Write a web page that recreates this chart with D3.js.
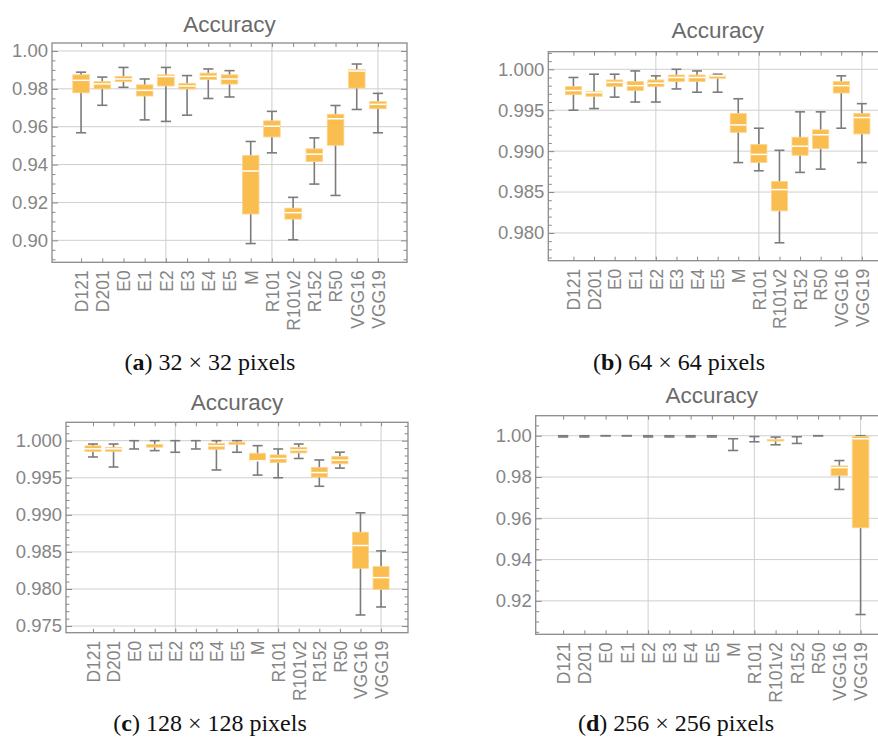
<!DOCTYPE html>
<html>
<head>
<meta charset="utf-8">
<script src="https://cdn.jsdelivr.net/npm/d3@7"></script>
<style>
  html, body { margin: 0; padding: 0; background: #fff; }
  svg { display: block; }
</style>
</head>
<body>
<svg id="chart" width="878" height="746"></svg>
<script>
// ---------- DATA ----------
const categories = ["D121","D201","E0","E1","E2","E3","E4","E5","M","R101","R101v2","R152","R50","VGG16","VGG19"];

// (a) 32 x 32 pixels
const a_high   = [0.9888,0.9862,0.9913,0.9852,0.9913,0.9870,0.9905,0.9896,0.9522,0.9681,0.9227,0.9541,0.9712,0.9931,0.9776];
const a_q3     = [0.9874,0.9838,0.9866,0.9821,0.9874,0.9829,0.9883,0.9874,0.9448,0.9631,0.9170,0.9483,0.9666,0.9901,0.9733];
const a_median = [0.9845,0.9826,0.9852,0.9792,0.9865,0.9815,0.9866,0.9852,0.9366,0.9603,0.9146,0.9455,0.9642,0.9894,0.9718];
const a_q1     = [0.9779,0.9800,0.9838,0.9762,0.9815,0.9799,0.9849,0.9825,0.9139,0.9546,0.9112,0.9416,0.9502,0.9804,0.9695];
const a_low    = [0.9568,0.9713,0.9808,0.9636,0.9628,0.9661,0.9749,0.9757,0.8983,0.9462,0.9003,0.9297,0.9237,0.9691,0.9568];
const a_ticks  = [0.90,0.92,0.94,0.96,0.98,1.00];

// (b) 64 x 64 pixels
const b_high   = [0.9990,0.9994,0.9994,0.9998,0.9992,1.0000,0.9998,0.9994,0.9964,0.9928,0.9901,0.9948,0.9948,0.9992,0.9958];
const b_q3     = [0.9979,0.9973,0.9987,0.9985,0.9987,0.9993,0.9993,0.9993,0.9946,0.9908,0.9863,0.9917,0.9926,0.9985,0.9946];
const b_median = [0.9974,0.99715,0.9984,0.9980,0.9983,0.9990,0.9990,0.9992,0.9932,0.9896,0.9853,0.9906,0.9920,0.9980,0.9941];
const b_q1     = [0.9969,0.9967,0.9979,0.9974,0.9979,0.9985,0.9985,0.9989,0.9923,0.9886,0.9827,0.9895,0.9903,0.9971,0.9921];
const b_low    = [0.9950,0.9952,0.9966,0.9960,0.9960,0.9976,0.9972,0.9972,0.9886,0.9876,0.9788,0.9874,0.9878,0.9928,0.9886];
const b_ticks  = [0.980,0.985,0.990,0.995,1.000];

// (c) 128 x 128 pixels
const c_high   = [0.99955,0.99955,1.0000,1.0000,1.0000,1.0000,1.0000,1.0000,0.99933,0.99888,0.99955,0.99740,0.99845,0.99027,0.98514];
const c_q3     = [0.99930,0.99910,1.0000,0.99948,1.0000,1.0000,0.99964,0.99980,0.99830,0.99808,0.99910,0.99638,0.99786,0.98766,0.98302];
const c_median = [0.99890,0.99890,1.0000,0.99930,1.0000,1.0000,0.99930,0.99965,0.99730,0.99760,0.99875,0.99570,0.99737,0.98586,0.98153];
const c_q1     = [0.99855,0.99855,1.0000,0.99912,1.0000,1.0000,0.99884,0.99950,0.99728,0.99705,0.99835,0.99509,0.99688,0.98279,0.97995];
const c_low    = [0.99780,0.99645,0.99888,0.99866,0.99844,0.99888,0.99605,0.99844,0.99536,0.99500,0.99760,0.99385,0.99630,0.97649,0.97757];
const c_ticks  = [0.975,0.980,0.985,0.990,0.995,1.000];

// (d) 256 x 256 pixels
const d_high   = [1.0000,1.0000,1.0000,1.0000,1.0000,1.0000,1.0000,1.0000,0.99854,0.99960,0.99935,0.99951,1.0000,0.98797,1.0000];
const d_q3     = [1.0000,1.0000,1.0000,1.0000,1.0000,1.0000,1.0000,1.0000,0.99650,0.99950,0.99820,0.99820,1.0000,0.98537,0.99967];
const d_median = [1.0000,1.0000,1.0000,1.0000,1.0000,1.0000,1.0000,1.0000,0.99650,0.99950,0.99780,0.99820,1.0000,0.98455,0.99854];
const d_q1     = [1.0000,1.0000,1.0000,1.0000,1.0000,1.0000,1.0000,1.0000,0.99650,0.99950,0.99750,0.99820,1.0000,0.98065,0.95540];
const d_low    = [0.99940,0.99940,1.0000,1.0000,0.99940,0.99940,0.99940,0.99940,0.99285,0.99707,0.99561,0.99626,1.0000,0.97398,0.91338];
const d_ticks  = [0.92,0.94,0.96,0.98,1.00];

const gridCategories = ["E2","R101","VGG19"];

// ---------- LAYOUT ----------
const panels = [
  { letter:"a", rest:") 32 \u00d7 32 pixels", high:a_high, q3:a_q3, med:a_median, q1:a_q1, low:a_low,
    ticks:a_ticks, minorStep:0.005, fmt:".2f", domain:[0.8884,1.0042],
    left:52, right:407, top:43, bottom:262.3, pad:1.37, titleY:32, capX:210, capY:370 },
  { letter:"b", rest:") 64 \u00d7 64 pixels", high:b_high, q3:b_q3, med:b_median, q1:b_q1, low:b_low,
    ticks:b_ticks, minorStep:0.001, fmt:".3f", domain:[0.97661,1.00215],
    left:548.3, right:887, top:51.7, bottom:260.7, pad:1.22, titleY:38, capX:679, capY:370 },
  { letter:"c", rest:") 128 \u00d7 128 pixels", high:c_high, q3:c_q3, med:c_median, q1:c_q1, low:c_low,
    ticks:c_ticks, minorStep:0.001, fmt:".3f", domain:[0.9741,1.00248],
    left:66, right:408, top:422.3, bottom:632.7, pad:1.31, titleY:410, capX:210, capY:731 },
  { letter:"d", rest:") 256 \u00d7 256 pixels", high:d_high, q3:d_q3, med:d_median, q1:d_q1, low:d_low,
    ticks:d_ticks, minorStep:0.005, fmt:".2f", domain:[0.9038,1.0097],
    left:535.7, right:888, top:415.7, bottom:634.3, pad:1.29, titleY:403, capX:676, capY:731 }
];

const svg = d3.select("#chart");
const BOX = "#FABD50", BOX_EDGE = "#FCD48A", WHISK = "#7b7b7b", GRID = "#cfcfcf", FRAME = "#8a8a8a";
const LABEL = "#858585", TITLE = "#6a6a6a";
const sans = "'Liberation Sans', Arial, Helvetica, sans-serif";

panels.forEach(p => {
  const g = svg.append("g");
  const x = d3.scalePoint().domain(categories).range([p.left, p.right]).padding(p.pad);
  const y = d3.scaleLinear().domain(p.domain).range([p.bottom, p.top]);
  const step = x.step();

  // horizontal grid lines
  g.selectAll("line.hg").data(p.ticks).join("line")
    .attr("x1", p.left).attr("x2", p.right)
    .attr("y1", d => y(d)).attr("y2", d => y(d))
    .attr("stroke", GRID).attr("stroke-width", 1);
  // vertical grid lines
  g.selectAll("line.vg").data(gridCategories).join("line")
    .attr("x1", d => x(d)).attr("x2", d => x(d))
    .attr("y1", p.top).attr("y2", p.bottom)
    .attr("stroke", GRID).attr("stroke-width", 1);

  // minor tick values
  const minor = d3.range(Math.ceil(p.domain[0]/p.minorStep), Math.floor(p.domain[1]/p.minorStep)+1)
    .map(k => +(k*p.minorStep).toFixed(4))
    .filter(v => !p.ticks.some(t => Math.abs(t - v) < 1e-7));

  // axes
  const axL = g.append("g").attr("transform", `translate(${p.left},0)`)
    .call(d3.axisLeft(y).tickValues(p.ticks).tickFormat(d3.format(p.fmt)).tickSizeInner(-6).tickSizeOuter(0).tickPadding(4));
  const axLm = g.append("g").attr("transform", `translate(${p.left},0)`)
    .call(d3.axisLeft(y).tickValues(minor).tickFormat("").tickSizeInner(-3.5).tickSizeOuter(0));
  const axR = g.append("g").attr("transform", `translate(${p.right},0)`)
    .call(d3.axisRight(y).tickValues(p.ticks).tickFormat("").tickSizeInner(-6).tickSizeOuter(0));
  const axRm = g.append("g").attr("transform", `translate(${p.right},0)`)
    .call(d3.axisRight(y).tickValues(minor).tickFormat("").tickSizeInner(-3.5).tickSizeOuter(0));
  const axB = g.append("g").attr("transform", `translate(0,${p.bottom})`)
    .call(d3.axisBottom(x).tickSizeInner(-4).tickSizeOuter(0));
  const axT = g.append("g").attr("transform", `translate(0,${p.top})`)
    .call(d3.axisTop(x).tickFormat("").tickSizeInner(-4).tickSizeOuter(0));

  [axL, axLm, axR, axRm, axB, axT].forEach(a => {
    a.select(".domain").remove();
    a.selectAll("line").attr("stroke", FRAME).attr("stroke-width", 1);
  });
  axL.selectAll("text").attr("fill", LABEL).style("font-family", sans).style("font-size", "18.5px");
  axB.selectAll("text")
    .attr("fill", LABEL).style("font-family", sans).style("font-size", "17.5px")
    .attr("transform", "rotate(-90)")
    .attr("x", -8).attr("y", 0).attr("dy", "0.36em")
    .style("text-anchor", "end");

  // boxes
  const data = categories.map((c, i) => ({ c, hi: p.high[i], q3: p.q3[i], med: p.med[i], q1: p.q1[i], lo: p.low[i] }));
  const cw = step * 0.48, bw = step * 0.78;
  const bx = g.selectAll("g.bx").data(data).join("g").attr("transform", d => `translate(${x(d.c)},0)`);
  bx.append("line").attr("x1", 0).attr("x2", 0)
    .attr("y1", d => y(d.hi)).attr("y2", d => y(d.lo))
    .attr("stroke", WHISK).attr("stroke-width", 1.6);
  bx.append("line").attr("x1", -cw/2).attr("x2", cw/2)
    .attr("y1", d => y(d.hi)).attr("y2", d => y(d.hi))
    .attr("stroke", WHISK).attr("stroke-width", 1.6);
  bx.append("line").attr("x1", -cw/2).attr("x2", cw/2)
    .attr("y1", d => y(d.lo)).attr("y2", d => y(d.lo))
    .attr("stroke", WHISK).attr("stroke-width", 1.6);
  const visible = bx.filter(d => y(d.q1) - y(d.q3) > 0.2);
  visible.append("rect")
    .attr("x", -bw/2).attr("width", bw)
    .attr("y", d => y(d.q3)).attr("height", d => Math.max(1.6, y(d.q1) - y(d.q3)))
    .attr("fill", BOX).attr("stroke", BOX_EDGE).attr("stroke-width", 0.8);
  visible.filter(d => y(d.q1) - y(d.q3) > 3).append("line")
    .attr("x1", -bw/2).attr("x2", bw/2)
    .attr("y1", d => y(d.med)).attr("y2", d => y(d.med))
    .attr("stroke", "#ffffff").attr("stroke-width", 1.5);

  // frame
  g.append("rect").attr("x", p.left).attr("y", p.top)
    .attr("width", p.right - p.left).attr("height", p.bottom - p.top)
    .attr("fill", "none").attr("stroke", FRAME).attr("stroke-width", 1.3);

  // title
  g.append("text").attr("x", (p.left + p.right) / 2).attr("y", p.titleY)
    .attr("text-anchor", "middle").attr("fill", TITLE)
    .style("font-family", sans).style("font-size", "22.5px")
    .text("Accuracy");

  // caption
  const cap = g.append("text").attr("x", p.capX).attr("y", p.capY)
    .attr("text-anchor", "middle").attr("fill", "#111")
    .style("font-family", "'Liberation Serif', 'Times New Roman', serif").style("font-size", "24px");
  cap.append("tspan").text("(");
  cap.append("tspan").style("font-weight", "bold").text(p.letter);
  cap.append("tspan").text(p.rest);
});
</script>
</body>
</html>
